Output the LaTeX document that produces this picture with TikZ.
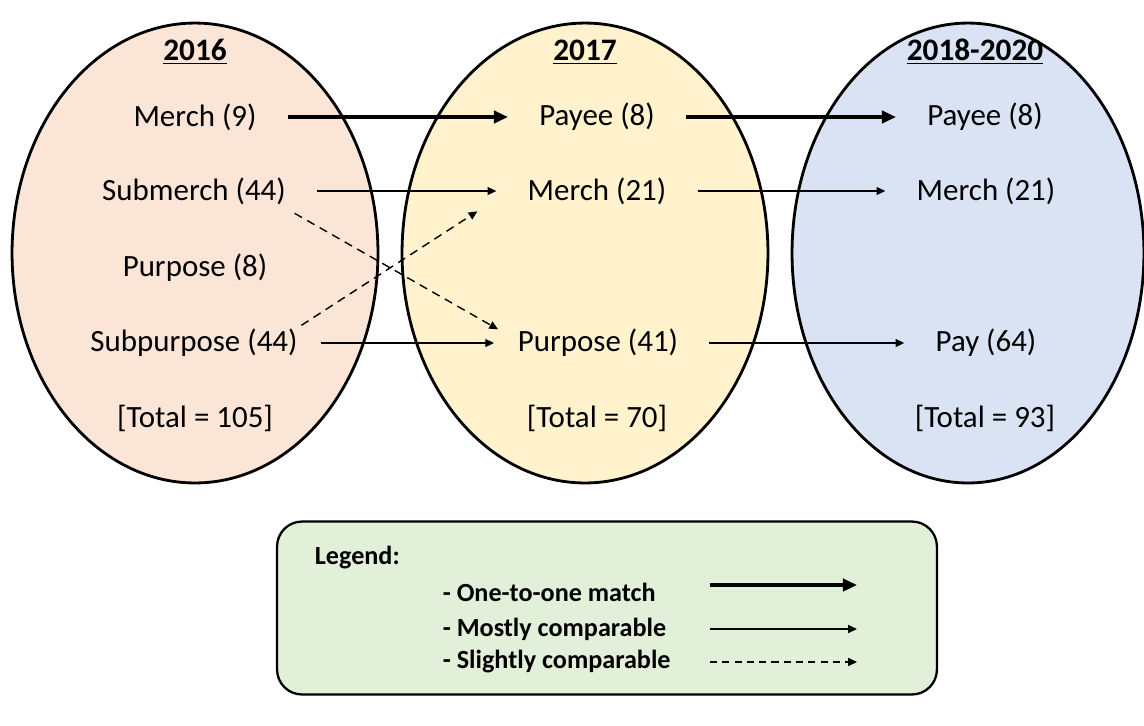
\documentclass[tikz,border=0pt]{standalone}
\usepackage{fontspec}
\setmainfont{Carlito}
\usetikzlibrary{arrows.meta}
\definecolor{peach}{HTML}{FBE5D6}
\definecolor{cream}{HTML}{FFF2CC}
\definecolor{paleblue}{HTML}{DAE3F3}
\definecolor{palegreen}{HTML}{E2F0D9}
\tikzset{
  lbl/.style={inner sep=2pt, font=\fontsize{17.6}{21}\selectfont},
  ttl/.style={inner sep=2pt, font=\fontsize{17.8}{21}\selectfont\bfseries},
  key/.style={inner sep=2pt, anchor=west, font=\fontsize{14.9}{17}\selectfont\bfseries},
  one/.style={line width=2.3pt, -{Triangle[length=8pt,width=7pt]}},
  most/.style={line width=0.8pt, -{Triangle[length=5pt,width=4.5pt]}},
  slight/.style={line width=0.8pt, dash pattern=on 4.8pt off 3.4pt, -{Triangle[length=5pt,width=4.5pt]}},
  gap/.style={shorten <=0.55cm, shorten >=0.55cm}
}
\begin{document}
\begin{tikzpicture}[x=0.02cm, y=-0.02cm]
\useasboundingbox (0,0) rectangle (1144,725);
\draw[fill=peach, line width=1.6pt] (195,253) ellipse [x radius=3.66cm, y radius=4.6cm];
\draw[fill=cream, line width=1.6pt] (585,253) ellipse [x radius=3.66cm, y radius=4.6cm];
\draw[fill=paleblue, line width=1.6pt] (968,253) ellipse [x radius=3.52cm, y radius=4.6cm];

\node[ttl] (y16) at (195,52) {\underline{2016}};
\node[lbl] (m9) at (195,117) {Merch (9)};
\node[lbl] (sm44) at (194,191) {Submerch (44)};
\node[lbl] (p8) at (195,268) {Purpose (8)};
\node[lbl] (sp44) at (194,343) {Subpurpose (44)};
\node[lbl] (t105) at (195,418) {[Total = 105]};

\node[ttl] (y17) at (585,52) {\underline{2017}};
\node[lbl] (pay8) at (597,117) {Payee (8)};
\node[lbl] (m21) at (597,191) {Merch (21)};
\node[lbl] (pur41) at (598,343) {Purpose (41)};
\node[lbl] (t70) at (597,418) {[Total = 70]};

\node[ttl] (y1820) at (975,52) {\underline{2018-2020}};
\node[lbl] (payb) at (985,117) {Payee (8)};
\node[lbl] (mb) at (986,191) {Merch (21)};
\node[lbl] (pay64) at (986,343) {Pay (64)};
\node[lbl] (t93) at (985,418) {[Total = 93]};

\draw[one, gap] (m9.east) -- (pay8.west);
\draw[one, gap] (pay8.east) -- (payb.west);
\draw[most, gap] (sm44.east) -- (m21.west);
\draw[most, gap] (m21.east) -- (mb.west);
\draw[most, shorten <=0.4cm, shorten >=0.4cm] (sp44.east) -- (pur41.west);
\draw[most, gap] (pur41.east) -- (pay64.west);
\draw[slight] ([xshift=0.1cm,yshift=-0.1cm]sm44.south east) -- ([xshift=-0.32cm,yshift=-0.08cm]pur41.north west);
\draw[slight] (sp44.north east) -- ([xshift=-0.93cm,yshift=-0.06cm]m21.south west);

\node[draw, fill=palegreen, line width=1.3pt, rounded corners=0.5cm, minimum width=13.2cm, minimum height=3.46cm] (legend) at (607,608) {};
\node[key] (lgd) at (311,558) {Legend:};
\node[key] (k1) at (439,592) {- One-to-one match};
\node[key] (k2) at (439,629) {- Mostly comparable};
\node[key] (k3) at (439,662) {- Slightly comparable};
\coordinate (k1s) at (710,585);
\coordinate (k1e) at (857,585);
\coordinate (k2s) at (710,629);
\coordinate (k2e) at (857,629);
\coordinate (k3s) at (710,662);
\coordinate (k3e) at (857,662);
\draw[one] (k1s) -- (k1e);
\draw[most] (k2s) -- (k2e);
\draw[slight, dash pattern=on 4pt off 3pt] (k3s) -- (k3e);
\end{tikzpicture}
\end{document}
